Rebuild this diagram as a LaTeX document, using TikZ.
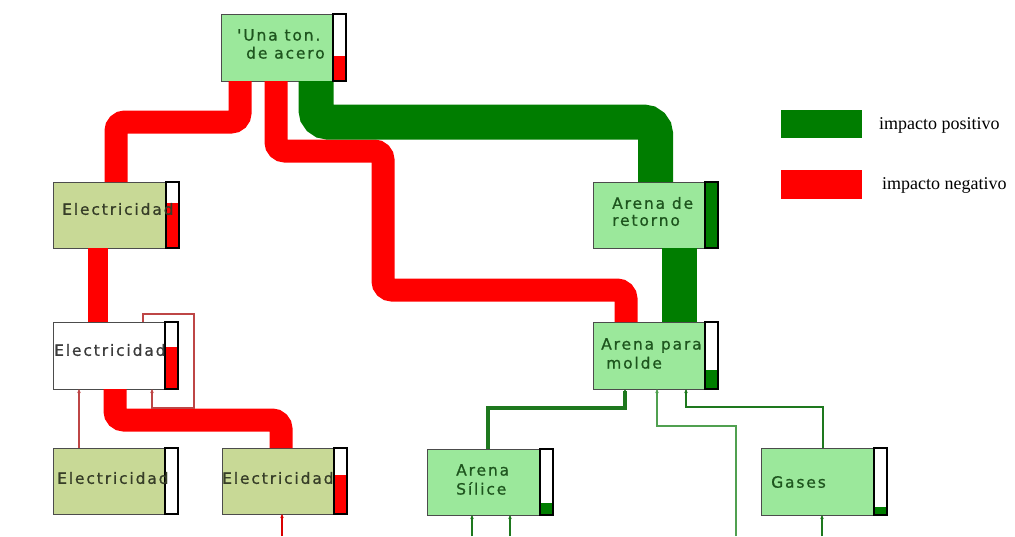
\documentclass[tikz,border=0pt]{standalone}
\usepackage{fontspec}
\usetikzlibrary{arrows.meta,calc}
\newfontfamily\boxfont[LetterSpace=12,FakeBold=0.8]{DejaVu Sans}
\newfontfamily\legfont{Liberation Serif}
\definecolor{lgreen}{RGB}{155,232,155}
\definecolor{boxolive}{RGB}{200,217,150}
\definecolor{dgreen}{RGB}{0,125,0}
\definecolor{bred}{RGB}{255,0,0}
\definecolor{tgreen}{RGB}{30,85,30}
\definecolor{tolive}{RGB}{55,62,40}
\definecolor{tgray}{RGB}{60,60,60}
\definecolor{brownred}{RGB}{190,70,70}
\definecolor{glinecol}{RGB}{30,120,30}
\definecolor{glightcol}{RGB}{80,160,80}
\tikzset{
  procbox/.style={draw=black!70, line width=0.9pt, anchor=north west, inner sep=0pt, outer sep=0pt, minimum width=125pt, minimum height=67pt},
  barframe/.style={draw=black, line width=1.6pt},
  redband/.style={draw=bred, line width=23pt, rounded corners=9pt},
  greenband/.style={draw=dgreen, line width=35pt, rounded corners=12pt},
  thinbrown/.style={draw=brownred, line width=1.2pt},
  thinred/.style={draw=bred!85!black, line width=1.5pt},
  gline/.style={draw=glinecol},
  glight/.style={draw=glightcol},
  flowarrow/.style={-{Stealth[length=4pt,width=3.5pt]}},
  boxtext/.style={inner sep=0pt, anchor=west, align=left, font=\boxfont\fontsize{15.5}{17}\selectfont},
  legbox/.style={anchor=north west, inner sep=0pt, minimum width=81pt, minimum height=28pt},
  legtext/.style={inner sep=0pt, anchor=west, font=\legfont\fontsize{18}{20}\selectfont}
}
\newcommand\procbar[3]{%
  \fill[white] ($(#1.north east)+(-13,0)$) rectangle (#1.south east);
  \fill[#2] ($(#1.south east)+(-13,0)$) rectangle ($(#1.south east)+(0,-#3)$);
  \draw[barframe] ($(#1.north east)+(-13,0)$) rectangle (#1.south east);}
\begin{document}
\begin{tikzpicture}[x=1pt,y=-1pt]
\useasboundingbox (0,0) rectangle (1015,536);
% process boxes
\node[procbox, fill=lgreen] (una) at (221,14) {};
\node[procbox, fill=boxolive, minimum width=126pt, minimum height=66pt] (e1) at (53,182) {};
\node[procbox, fill=white] (e2) at (53,322) {};
\node[procbox, fill=boxolive, minimum height=66pt] (e3) at (53,448) {};
\node[procbox, fill=boxolive, minimum height=66pt] (e4) at (222,448) {};
\node[procbox, fill=lgreen, minimum height=66pt] (ret) at (593,182) {};
\node[procbox, fill=lgreen] (mol) at (593,322) {};
\node[procbox, fill=lgreen, minimum width=126pt, minimum height=66pt] (sil) at (427,449) {};
\node[procbox, fill=lgreen, minimum width=126pt] (gas) at (761,448) {};
% free ends at the lower edge
\coordinate (e4in) at (282,536);
\coordinate (g2in) at (736,536);
\coordinate (s1in) at (472,536);
\coordinate (s2in) at (510,536);
\coordinate (g3in) at (822,536);
% thick flows
\draw[redband] ($(una.south west)+(19,0)$) -- ++(0,41) -| (e1.north);
\draw[redband] ($(una.south west)+(55,0)$) -- ++(0,70) -- ++(107,0) -- ++(0,139) -| ($(mol.north west)+(33,0)$);
\draw[greenband] ($(una.south west)+(95,0)$) -- ++(0,41) -| (ret.north);
\draw[greenband] ($(ret.south west)+(86,0)$) -- ($(mol.north west)+(86,0)$);
\draw[redband, line width=20pt] ($(e1.south west)+(45,0)$) -- ($(e2.north west)+(45,0)$);
\draw[redband] ($(e2.south west)+(62,0)$) -- ++(0,31) -| ($(e4.north west)+(59,0)$);
% thin flows
\draw[thinbrown, flowarrow] ($(e3.north west)+(26,0)$) -- ($(e2.south west)+(26,0)$);
\draw[thinbrown, flowarrow] ($(e2.north west)+(90,0)$) -- ++(0,-8) -- ++(51,0) -- ++(0,94) -| ($(e2.south west)+(99,0)$);
\draw[thinred, flowarrow] (e4in) -- (e4in |- e4.south);
\draw[gline, line width=3.5pt, flowarrow] ($(sil.north west)+(61,0)$) -- ++(0,-41) -| ($(mol.south west)+(32,0)$);
\draw[glight, line width=1.8pt, flowarrow] (g2in) -- ++(0,-110) -| ($(mol.south west)+(64,0)$);
\draw[gline, line width=2.8pt, flowarrow] ($(gas.north west)+(62,0)$) -- ++(0,-41) -| ($(mol.south west)+(93,0)$);
\draw[gline, line width=1.5pt, flowarrow] (s1in) -- (s1in |- sil.south);
\draw[gline, line width=1.5pt, flowarrow] (s2in) -- (s2in |- sil.south);
\draw[gline, line width=1.5pt, flowarrow] (g3in) -- (g3in |- gas.south);
% indicator bars
\procbar{una}{bred}{25}
\procbar{e1}{bred}{45}
\procbar{e2}{bred}{42}
\procbar{e3}{white}{0}
\procbar{e4}{bred}{39}
\procbar{ret}{dgreen}{66}
\procbar{mol}{dgreen}{19}
\procbar{sil}{dgreen}{12}
\procbar{gas}{dgreen}{8}
% labels
\node[boxtext, text=tgreen, font=\boxfont\fontsize{15.5}{18}\selectfont] (unat) at (237,44) {'Una ton.\\\hspace{9pt}de acero};
\node[boxtext, text=tolive] (e1t) at (62,209) {Electricidad};
\node[boxtext, text=tgray] (e2t) at (54,350) {Electricidad};
\node[boxtext, text=tolive] (e3t) at (57,478) {Electricidad};
\node[boxtext, text=tolive] (e4t) at (222,478) {Electricidad};
\node[boxtext, text=tgreen] (rett) at (612,211.5) {Arena de\\retorno};
\node[boxtext, text=tgreen, font=\boxfont\fontsize{15.5}{19}\selectfont] (molt) at (601,353.5) {Arena para\\\hspace{5pt}molde};
\node[boxtext, text=tgreen, font=\boxfont\fontsize{15.5}{19}\selectfont] (silt) at (456,479.5) {Arena\\Sílice};
\node[boxtext, text=tgreen] (gast) at (771,482) {Gases};
% legend
\node[legbox, fill=dgreen] (legpos) at (781,110) {};
\node[legtext] (legpost) at (879,125) {impacto positivo};
\node[legbox, fill=bred, minimum height=29pt] (legneg) at (781,170) {};
\node[legtext] (legnegt) at (882,185) {impacto negativo};
\end{tikzpicture}
\end{document}
